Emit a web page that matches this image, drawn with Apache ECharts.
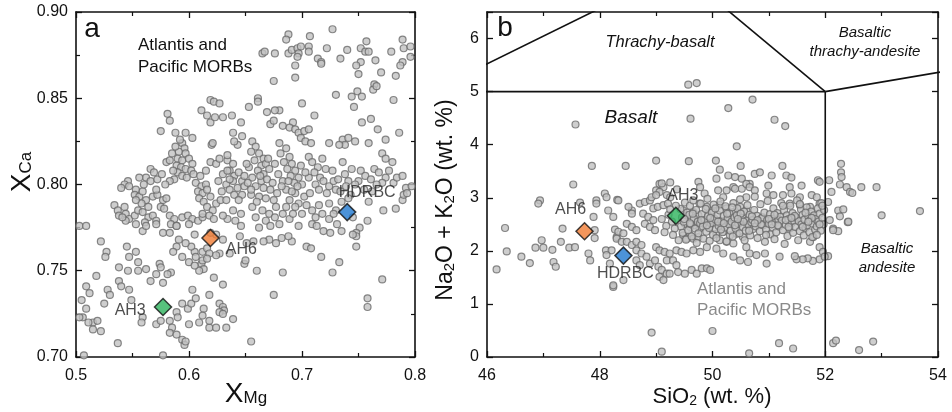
<!DOCTYPE html>
<html>
<head>
<meta charset="utf-8">
<script src="https://cdn.jsdelivr.net/npm/echarts@6/dist/echarts.min.js"></script>
<style>
html,body{margin:0;padding:0;background:#fff;}
#chart{width:952px;height:412px;}
</style>
</head>
<body>
<div id="chart"></div>
<script>
// ---------------- DATA ----------------
// Panel a: Atlantis and Pacific MORBs, [XMg, XCa]
const morbA = [
[0.727,0.890],[0.688,0.887],[0.686,0.884],[0.707,0.886],[0.665,0.876],[0.667,0.877],[0.676,0.876],[0.688,0.876],[0.691,0.878],[0.696,0.879],[0.699,0.880],[0.697,0.876],[0.696,0.874],[0.706,0.880],[0.706,0.877],[0.722,0.879],[0.714,0.873],[0.717,0.871],[0.717,0.870],[0.694,0.869],[0.694,0.862],[0.675,0.860],[0.734,0.873],[0.740,0.878],[0.752,0.879],[0.756,0.877],[0.759,0.877],[0.757,0.883],[0.752,0.871],[0.748,0.869],[0.750,0.864],[0.765,0.872],[0.770,0.865],[0.779,0.877],[0.789,0.884],[0.790,0.879],[0.796,0.880],[0.789,0.871],[0.787,0.869],[0.796,0.874],[0.783,0.863],[0.764,0.858],[0.763,0.855],[0.766,0.857],[0.749,0.854],[0.753,0.851],[0.744,0.851],[0.746,0.845],[0.730,0.852],[0.781,0.849],[0.661,0.850],[0.661,0.848],[0.653,0.845],[0.700,0.847],[0.680,0.843],[0.676,0.843],[0.669,0.842],
[0.619,0.849],[0.622,0.848],[0.627,0.847],
[0.611,0.843],[0.616,0.840],[0.619,0.836],[0.623,0.839],[0.630,0.839],[0.638,0.840],[0.646,0.836],
[0.581,0.841],[0.583,0.837],[0.575,0.831],[0.588,0.830],[0.597,0.830],[0.603,0.827],[0.620,0.823],
[0.594,0.824],[0.596,0.821],[0.591,0.819],[0.597,0.818],[0.590,0.815],[0.594,0.814],[0.600,0.815],[0.603,0.812],[0.589,0.811],[0.593,0.810],[0.597,0.809],[0.602,0.808],[0.590,0.807],[0.594,0.805],[0.587,0.803],[0.583,0.802],[0.580,0.813],[0.583,0.814],
[0.566,0.809],[0.569,0.807],[0.562,0.804],[0.566,0.802],[0.572,0.803],[0.546,0.802],[0.543,0.800],[0.547,0.799],[0.540,0.798],
[0.553,0.797],[0.552,0.794],[0.556,0.793],[0.559,0.796],[0.562,0.791],[0.558,0.789],[0.564,0.787],[0.553,0.791],
[0.568,0.793],[0.572,0.794],[0.577,0.791],[0.580,0.792],[0.575,0.787],[0.578,0.786],
[0.534,0.788],[0.537,0.785],[0.538,0.782],[0.543,0.787],[0.544,0.783],[0.547,0.780],[0.552,0.782],[0.555,0.785],[0.559,0.784],[0.564,0.781],[0.568,0.782],[0.571,0.779],[0.561,0.778],[0.553,0.777],[0.544,0.779],[0.541,0.781],
[0.583,0.782],[0.587,0.780],[0.584,0.777],[0.589,0.776],[0.594,0.781],[0.599,0.782],[0.603,0.780],[0.600,0.777],[0.608,0.779],[0.612,0.781],
[0.606,0.801],[0.611,0.799],[0.615,0.800],[0.608,0.796],[0.612,0.795],[0.616,0.797],[0.619,0.793],[0.609,0.792],[0.613,0.790],[0.616,0.787],[0.621,0.785],[0.612,0.783],[0.618,0.782],[0.622,0.780],[0.624,0.789],[0.628,0.791],
[0.630,0.806],[0.636,0.808],[0.640,0.805],[0.644,0.807],[0.647,0.802],[0.639,0.802],[0.633,0.800],[0.643,0.798],[0.647,0.794],
[0.619,0.813],[0.624,0.812],[0.627,0.815],[0.634,0.814],[0.639,0.812],
[0.621,0.824],[0.634,0.817],[0.643,0.823],[0.639,0.830],[0.640,0.825],[0.647,0.828],
[0.636,0.803],[0.649,0.805],[0.636,0.797],[0.640,0.794],[0.644,0.791],[0.633,0.791],[0.649,0.799],[0.639,0.785],[0.646,0.783],[0.641,0.779],[0.634,0.780],[0.630,0.782],
[0.672,0.835],[0.683,0.834],[0.675,0.837],[0.711,0.840],[0.692,0.836],[0.689,0.833],[0.694,0.832],[0.697,0.830],[0.702,0.831],[0.706,0.832],[0.699,0.827],[0.703,0.825],[0.708,0.824],[0.753,0.836],[0.761,0.838],[0.767,0.832],[0.786,0.830],[0.774,0.826],[0.724,0.824],[0.736,0.826],[0.741,0.827],[0.747,0.825],[0.738,0.823],[0.733,0.823],[0.759,0.824],[0.771,0.818],[0.774,0.815],[0.780,0.813],
[0.656,0.825],[0.659,0.822],[0.655,0.819],[0.662,0.818],[0.666,0.815],[0.658,0.814],[0.664,0.811],[0.668,0.812],[0.653,0.810],[0.661,0.808],[0.666,0.806],[0.671,0.809],[0.656,0.804],[0.664,0.802],[0.669,0.803],[0.674,0.801],[0.659,0.799],[0.666,0.798],[0.672,0.797],[0.678,0.795],[0.655,0.794],[0.662,0.793],[0.668,0.792],[0.675,0.791],
[0.680,0.824],[0.686,0.821],[0.681,0.818],[0.689,0.816],[0.684,0.813],[0.691,0.812],[0.687,0.809],[0.694,0.808],[0.690,0.805],[0.697,0.804],[0.683,0.802],[0.693,0.801],[0.700,0.800],[0.686,0.797],[0.694,0.795],[0.702,0.793],[0.689,0.791],[0.697,0.789],
[0.706,0.816],[0.709,0.813],[0.714,0.810],[0.711,0.807],[0.716,0.804],[0.721,0.809],[0.719,0.802],[0.724,0.799],[0.728,0.802],[0.730,0.797],[0.712,0.800],[0.706,0.804],
[0.736,0.813],[0.738,0.806],[0.741,0.802],[0.744,0.809],[0.752,0.808],[0.756,0.805],[0.750,0.802],[0.761,0.803],[0.764,0.809],[0.768,0.807],[0.774,0.804],[0.771,0.801],[0.777,0.808],[0.781,0.801],[0.784,0.804],[0.789,0.805],[0.792,0.798],[0.797,0.799],
[0.656,0.787],[0.665,0.785],[0.671,0.783],[0.659,0.781],[0.668,0.779],[0.677,0.787],[0.683,0.783],[0.689,0.780],[0.680,0.777],[0.672,0.776],[0.662,0.775],[0.694,0.787],[0.700,0.783],[0.709,0.785],[0.712,0.781],[0.718,0.783],[0.724,0.789],[0.724,0.780],[0.730,0.785],[0.709,0.777],[0.697,0.776],
[0.759,0.790],[0.772,0.785],[0.783,0.786],[0.789,0.791],[0.790,0.794],[0.758,0.779],[0.793,0.795],
[0.745,0.781],[0.751,0.775],[0.748,0.772],[0.731,0.777],[0.719,0.773],[0.725,0.772],[0.713,0.776],[0.728,0.783],
[0.503,0.776],[0.509,0.776],[0.522,0.767],[0.527,0.761],[0.526,0.758],[0.545,0.764],[0.547,0.758],[0.553,0.761],[0.555,0.755],[0.538,0.752],[0.546,0.750],[0.562,0.751],[0.555,0.750],
[0.566,0.744],[0.574,0.754],[0.575,0.752],[0.571,0.748],[0.577,0.743],[0.584,0.749],[0.581,0.748],[0.518,0.747],
[0.538,0.744],[0.540,0.741],[0.547,0.739],[0.549,0.733],[0.528,0.739],[0.530,0.736],[0.525,0.731],[0.509,0.741],[0.512,0.737],[0.505,0.733],[0.509,0.728],[0.506,0.723],[0.515,0.720],[0.519,0.721],[0.522,0.715],[0.515,0.716],[0.511,0.720],[0.503,0.723],
[0.537,0.708],[0.559,0.723],[0.558,0.720],[0.571,0.719],[0.575,0.721],[0.583,0.721],[0.589,0.726],[0.590,0.723],[0.585,0.717],[0.583,0.714],[0.589,0.713],[0.594,0.710],[0.596,0.707],[0.597,0.709],[0.577,0.701],[0.507,0.701],
[0.594,0.731],[0.599,0.728],[0.602,0.731],[0.606,0.734],[0.600,0.719],[0.609,0.720],[0.613,0.728],[0.612,0.724],[0.618,0.717],[0.624,0.717],[0.633,0.717],[0.618,0.721],
[0.627,0.731],[0.630,0.729],[0.631,0.727],[0.627,0.726],[0.639,0.722],[0.630,0.725],
[0.603,0.739],[0.618,0.736],[0.622,0.746],[0.630,0.742],
[0.611,0.754],[0.613,0.751],[0.609,0.750],[0.612,0.761],[0.616,0.763],[0.618,0.760],[0.605,0.761],[0.606,0.758],[0.602,0.764],[0.597,0.766],[0.591,0.768],[0.589,0.764],[0.586,0.761],[0.594,0.758],[0.600,0.755],[0.605,0.753],[0.612,0.756],[0.616,0.757],
[0.627,0.760],[0.624,0.759],[0.636,0.760],[0.630,0.768],[0.624,0.771],[0.619,0.772],[0.605,0.771],
[0.646,0.776],[0.649,0.754],
[0.559,0.773],[0.562,0.776],[0.571,0.777],[0.577,0.772],[0.583,0.772],[0.589,0.776],
[0.748,0.764],[0.733,0.755],[0.727,0.749],[0.717,0.758],[0.683,0.749],[0.675,0.736],[0.771,0.745],[0.758,0.734],[0.758,0.729],[0.704,0.764],[0.708,0.763],[0.691,0.767],[0.682,0.769],[0.688,0.770],[0.671,0.768],[0.677,0.766],[0.748,0.770],[0.745,0.771],[0.735,0.773],[0.655,0.709],[0.657,0.767],[0.660,0.750],[0.650,0.756],[0.645,0.770],[0.651,0.766],[0.666,0.767],
[0.585,0.818],[0.588,0.822],[0.592,0.826],[0.586,0.808],[0.598,0.804],[0.604,0.806],[0.610,0.805],[0.615,0.808],[0.576,0.806],[0.579,0.800],[0.571,0.797],[0.560,0.800],[0.556,0.804],
[0.626,0.802],[0.629,0.796],[0.634,0.808],[0.651,0.812],[0.652,0.801],[0.655,0.797],[0.660,0.790],[0.663,0.805],[0.670,0.815],[0.676,0.812],[0.679,0.806],[0.682,0.799],[0.688,0.802],[0.691,0.796],[0.696,0.799],[0.699,0.811],[0.703,0.807],[0.707,0.795],[0.715,0.797],[0.718,0.815],[0.722,0.795],[0.727,0.808],[0.732,0.803],[0.734,0.796],[0.739,0.799],[0.743,0.794],[0.747,0.800],[0.755,0.797],[0.762,0.796],[0.766,0.800],[0.676,0.781],[0.686,0.787],[0.692,0.783],[0.704,0.788],[0.715,0.788],[0.735,0.790],[0.741,0.792]
];

// Panel b: Atlantis and Pacific MORBs, [SiO2, Na2O+K2O]
const morbB = [
[49.57,5.13],[49.72,5.16],[50.71,4.85],[50.28,4.69],[47.57,4.38],[49.61,4.49],[51.10,4.47],[51.29,4.35],[50.43,3.97],[47.86,3.60],[48.46,3.60],[49.00,3.70],[49.58,3.69],[50.06,3.70],[50.50,3.60],[51.24,3.60],[52.28,3.64],[52.28,3.48],[50.13,3.53],
[46.94,2.95],[46.91,2.89],[46.32,2.43],[46.97,2.20],[46.86,2.06],[47.00,2.06],[47.16,2.02],[46.35,1.99],[46.61,1.89],[46.76,1.77],[47.18,1.79],[47.22,1.70],[46.17,1.65],
[47.53,3.25],[47.34,2.42],[47.31,2.17],[47.46,2.06],[47.56,2.07],[47.65,2.91],
[47.94,2.95],[47.94,2.89],[48.09,3.08],[48.12,3.01],[48.31,2.96],[48.57,2.76],[47.89,2.64],[47.80,1.95],[47.83,1.82],[47.91,2.24],[47.91,2.39],[48.27,2.40],[48.30,2.26],[48.11,2.01],[48.24,1.32],[48.42,1.45],
[48.92,0.46],[50.00,0.49],[49.10,0.10],[50.65,0.07],[51.18,0.26],[51.43,0.16],[52.14,0.26],[52.19,0.31],[52.60,0.13],[52.85,0.29],
[48.33,2.95],[48.15,2.76],[48.24,2.64],[48.51,2.83],[48.57,2.70],[48.71,2.89],[48.80,2.92],[48.89,2.95],[49.06,3.26],[49.13,3.20],[49.00,3.14],[49.06,3.11],[49.19,3.05],[49.25,3.01],
[48.95,2.80],[49.03,2.83],[49.13,2.86],[49.21,2.89],[48.77,2.70],[48.86,2.64],[48.95,2.58],[48.80,2.51],[48.89,2.45],[48.98,2.39],[48.48,2.51],[48.57,2.45],[48.65,2.39],[48.33,2.36],[48.42,2.33],
[48.30,2.23],[48.39,2.17],[48.48,2.17],[48.57,2.11],[48.65,2.17],[48.74,2.11],[48.65,2.01],[48.74,1.95],[48.83,1.89],[48.21,2.01],[48.12,1.92],[48.65,1.82],[48.71,1.73],[48.18,1.76],[48.24,1.35],
[48.89,1.76],[48.98,1.82],[49.04,1.70],[49.10,1.64],[49.19,1.57],[49.00,2.07],[49.06,2.01],[49.15,1.98],[49.24,1.95],[49.36,2.01],[49.45,1.98],[49.54,1.95],[49.66,2.01],[49.78,1.98],
[49.19,1.82],[49.30,1.82],[49.36,1.73],[49.24,1.57],[49.39,1.60],[49.51,1.57],[49.63,1.64],[49.72,1.57],[49.81,1.67],[49.90,1.67],[49.96,1.64],[49.06,1.51],[49.13,1.45],
[49.60,2.29],[49.66,2.23],[49.75,2.26],[49.90,2.07],[50.07,2.04],[50.13,2.20],[50.25,2.17],[50.37,2.14],[50.37,1.89],[50.49,1.82],[50.19,1.95],[50.60,2.07],[50.66,1.95],
[49.48,2.76],[49.54,2.67],[49.63,2.61],[49.66,2.73],[49.75,2.67],[49.51,2.51],[49.60,2.45],[49.68,2.48],[49.77,2.42],[49.86,2.51],[49.95,2.45],[49.48,2.29],[49.54,2.23],
[49.77,2.89],[49.90,2.83],[50.01,2.76],[50.13,2.86],[50.25,2.80],[50.37,2.73],[50.49,2.83],[50.60,2.76],[50.01,2.58],[50.13,2.51],[50.25,2.58],[50.37,2.48],[50.49,2.58],[50.60,2.51],
[50.07,2.32],[50.19,2.36],[50.31,2.29],[50.43,2.32],[50.54,2.26],[50.25,3.14],[50.37,3.20],[50.52,3.17],[50.19,3.01],[50.60,3.01],[50.28,3.42],[50.40,3.39],[50.52,3.36],[49.86,3.08],[50.07,3.36],
[48.92,3.01],[49.00,3.05],[49.10,3.27],[49.25,3.29],[49.37,3.16],[49.75,3.30],[49.78,3.20],[50.10,3.14],[50.40,3.17],[50.66,3.26],
[52.29,3.39],[52.26,3.25],[52.38,3.20],[52.44,3.11],[52.48,3.09],[52.64,3.20],[52.91,3.20],[52.11,3.11],[52.07,3.33],[52.05,2.92],[52.23,2.76],[52.32,2.78],[52.26,2.65],[52.40,2.54],[53.00,2.67],[53.68,2.75],[52.08,2.58],[52.14,2.42],[52.23,2.37],[52.05,1.90],[52.41,2.55],[52.14,2.39],
[50.75,3.45],[50.84,3.48],[51.05,3.42],[51.31,3.42],[51.40,3.38],[51.58,3.23],[51.87,3.33],[51.90,3.30],[50.60,3.26],[50.66,3.20],[50.75,3.14],[50.99,3.23],[51.37,3.20],[51.40,3.08],[51.25,3.05],[51.55,3.01],[50.96,3.08],[51.08,3.05],[51.76,3.05],[51.85,3.01],[51.90,2.89],[51.55,2.86],[51.37,2.89],[51.73,2.83],
[51.90,1.84],[51.78,1.81],[51.69,1.86],[51.60,1.84],[51.49,1.84],[51.46,1.90],[50.78,1.92],[50.93,1.95],[50.63,1.79],[51.73,2.17],[51.79,2.26],[51.90,2.07],[51.96,1.98],[50.96,1.76],[51.19,1.89],[51.99,1.89],
[49.44,2.46],[49.46,2.63],[49.43,2.79],[49.47,2.34],[49.49,2.55],[49.51,2.91],[49.53,2.21],[49.55,2.72],[49.57,2.39],[49.59,2.68],[49.60,2.85],[49.62,2.50],[49.63,2.27],[49.66,2.95],[49.67,2.61],[49.69,2.42],[49.71,2.77],[49.72,2.15],[49.74,2.55],[49.75,2.33],[49.78,2.52],[49.79,2.89],[49.81,2.69],[49.83,2.46],[49.84,2.23],[49.86,2.58],[49.88,2.79],[49.89,2.36],[49.91,2.98],[49.92,2.65],[49.94,2.43],[49.95,2.19],[49.97,2.52],[49.99,2.72],[50.01,2.30],[50.02,2.87],[50.04,2.60],[50.06,2.41],[50.07,2.24],[50.09,2.68],[50.11,2.47],[50.13,2.76],[50.14,2.93],[50.16,2.56],[50.18,2.35],[50.20,2.66],[50.22,2.44],[50.23,2.84],[50.25,2.18],[50.27,2.61],[50.29,2.50],[50.30,2.71],[50.32,2.38],[50.34,2.55],[50.36,2.27],[50.37,2.90],[50.39,2.63],[50.41,2.42],[50.43,2.67],[50.44,2.80],[50.46,2.51],[50.48,2.33],[50.49,2.97],[50.51,2.59],[50.53,2.62],[50.54,2.45],[50.56,2.74],[50.57,2.20],[50.59,2.38],[50.61,2.57],[50.62,2.86],[50.64,2.49],[50.66,2.68],[50.67,2.29],[50.69,2.54],[50.71,2.58],[50.72,2.41],[50.74,2.77],[50.75,3.02],[50.77,2.46],[50.79,2.66],[50.80,2.24],[50.82,2.55],[50.84,2.37],[50.85,2.88],[50.87,2.61],[50.89,2.63],[50.90,2.48],[50.92,2.72],[50.93,2.17],[50.95,2.40],[50.97,2.58],[50.98,2.94],[51.00,2.51],[51.02,2.69],[51.03,2.31],[51.05,2.60],[51.07,2.44],[51.08,2.80],[51.10,2.22],[51.12,2.53],[51.13,2.35],[51.15,2.71],[51.17,2.59],[51.18,2.46],[51.20,2.64],[51.22,2.90],[51.23,2.57],[51.25,2.39],[51.27,2.76],[51.28,2.13],[51.30,2.49],[51.32,2.67],[51.33,2.28],[51.35,2.60],[51.37,2.42],[51.38,2.85],[51.40,2.52],[51.42,2.71],[51.43,2.34],[51.45,2.56],[51.47,2.45],[51.48,2.63],[51.50,2.95],[51.52,2.20],[51.53,2.56],[51.55,2.37],[51.57,2.78],[51.58,2.50],[51.60,2.68],[51.62,2.29],[51.63,2.59],[51.65,2.43],[51.67,2.82],[51.68,2.48],[51.70,2.65],[51.72,2.35],[51.73,2.57],[51.75,2.74],[51.77,2.26],[51.78,2.51],[51.80,2.67],[51.82,2.40],[51.83,2.60],[51.85,2.46],[51.87,2.80],[51.88,2.55],[51.90,2.70],[51.92,2.38],[51.93,2.90],[51.95,2.62],[51.97,2.50],[51.98,2.77],
[49.50,2.60],[49.65,2.70],[49.80,2.58],[49.96,2.62],[50.10,2.55],[50.26,2.70],[50.40,2.48],[50.55,2.55],[50.70,2.65],[50.86,2.50],[51.00,2.60],[51.16,2.48],[51.30,2.58],[51.46,2.66],[51.60,2.45],[51.76,2.62],[51.90,2.50],[50.20,2.52],[50.50,2.70],[50.80,2.58],[51.10,2.68],[51.40,2.62],[51.70,2.55],[50.05,2.80],[50.35,2.82],[50.65,2.38],[50.95,2.30],[51.25,2.85],[51.55,2.88],[51.85,2.30],[49.60,2.52],[49.90,2.48],[50.15,2.40],[50.45,2.60],[50.75,2.52],[51.05,2.50],[51.35,2.45],[51.65,2.72],[51.95,2.85],
[49.28,2.55],[49.33,2.42],[49.22,2.68],[49.18,2.47],[49.10,2.60],[49.30,2.30],[49.40,2.20],[49.35,2.85],[49.25,2.78],[49.15,2.35]
];

// Samples
const sampleNames = ['AH3', 'AH6', 'HDRBC'];
const sampleColors = ['#2db35d', '#f07c33', '#1f78cf'];
const sampleXMg = [0.577, 0.619, 0.740];
const sampleXCa = [0.729, 0.769, 0.784];
const sampleSiO2 = [49.35, 47.73, 48.42];
const sampleAlk = [2.66, 2.37, 1.91];

// TAS field boundaries (SiO2, Na2O+K2O)
const tasBoundaries = [
  [[45, 5], [49.4, 7.3]],
  [[45, 5], [52, 5]],
  [[52, 0], [52, 5]],
  [[52, 5], [49.4, 7.3]],
  [[52, 5], [57, 5.9]]
];

// Tick labels
const xMgTicks = ['0.5', '0.6', '0.7', '0.8'];
const xCaTicks = ['0.70', '0.75', '0.80', '0.85', '0.90'];
const sio2Ticks = ['46', '48', '50', '52', '54'];
const alkTicks = ['0', '1', '2', '3', '4', '5', '6'];

// ---------------- CHART ----------------
const FONT = '"Liberation Sans", Arial, Helvetica, sans-serif';
const chart = echarts.init(document.getElementById('chart'), null, {renderer: 'canvas'});

function frameAxis(gridIndex, pos, min, max, interval, minorSplit, labelFn, isX) {
  return {
    gridIndex: gridIndex, type: 'value', position: pos, min: min, max: max, interval: interval,
    axisLine: {show: true, onZero: false, lineStyle: {color: '#111', width: 1.6}},
    axisTick: {show: true, inside: true, length: 6, lineStyle: {color: '#111', width: 1.3}},
    minorTick: {show: minorSplit > 0, splitNumber: minorSplit || 2, length: 4, lineStyle: {color: '#111', width: 1.2}},
    splitLine: {show: false},
    minorSplitLine: {show: false},
    axisLabel: labelFn ? {
      show: true, formatter: labelFn, fontSize: 16, color: '#111', fontFamily: FONT,
      margin: isX ? 11 : 8, showMinLabel: true, showMaxLabel: true
    } : {show: false}
  };
}

const fmtXMg = v => xMgTicks[Math.round((v - 0.5) / 0.1)] ?? '';
const fmtXCa = v => { const i = (v - 0.70) / 0.05; return Math.abs(i - Math.round(i)) < 1e-6 ? (xCaTicks[Math.round(i)] ?? '') : ''; };
const fmtSiO2 = v => sio2Ticks[Math.round((v - 46) / 2)] ?? '';
const fmtAlk = v => Number.isInteger(Math.round(v * 1000) / 1000) ? (alkTicks[Math.round(v)] ?? '') : '';

const grids = [
  {left: 76, top: 12, width: 339, height: 345},
  {left: 487, top: 12, width: 451, height: 345}
];

const xAxes = [
  frameAxis(0, 'bottom', 0.5, 0.8, 0.1, 2, fmtXMg, true),
  frameAxis(0, 'top', 0.5, 0.8, 0.1, 2, null, true),
  frameAxis(1, 'bottom', 46, 54, 2, 2, fmtSiO2, true),
  frameAxis(1, 'top', 46, 54, 2, 2, null, true)
];
const yAxes = [
  frameAxis(0, 'left', 0.70, 0.90, 0.05, 2, fmtXCa, false),
  frameAxis(0, 'right', 0.70, 0.90, 0.05, 2, null, false),
  frameAxis(1, 'left', 0, 6.5, 1, 0, fmtAlk, false),
  frameAxis(1, 'right', 0, 6.5, 1, 0, null, false)
];

const greyStyle = {color: '#c2c2c2', borderColor: '#6a6a6a', borderWidth: 1.2};

const series = [];
series.push({
  type: 'scatter', xAxisIndex: 0, yAxisIndex: 0, data: morbA,
  symbol: 'circle', symbolSize: 7, itemStyle: greyStyle, z: 2, silent: true
});
series.push({
  type: 'scatter', xAxisIndex: 2, yAxisIndex: 2, data: morbB,
  symbol: 'circle', symbolSize: 7, itemStyle: greyStyle, z: 2, silent: true
});
tasBoundaries.forEach(seg => {
  series.push({
    type: 'line', xAxisIndex: 2, yAxisIndex: 2, data: seg, symbol: 'none', clip: true,
    lineStyle: {color: '#111', width: 1.6}, z: 3, silent: true
  });
});

const labelBase = {show: true, fontSize: 16, color: '#222', fontFamily: FONT};
const labA = [
  {position: 'left', distance: 8, offset: [0, 4]},
  {position: 'right', distance: 6, offset: [0, 12]},
  {position: 'top', distance: 2, offset: [20, 0]}
];
const labB = [
  {position: 'top', distance: 3, offset: [7, 0]},
  {position: 'top', distance: 4, offset: [-14, 0]},
  {position: 'bottom', distance: 1, offset: [2, 0]}
];
series.push({
  type: 'scatter', xAxisIndex: 0, yAxisIndex: 0, z: 5, symbol: 'diamond', symbolSize: 17,
  data: sampleNames.map((n, i) => ({
    name: n, value: [sampleXMg[i], sampleXCa[i]],
    itemStyle: {color: sampleColors[i], borderColor: '#111', borderWidth: 1.5},
    label: Object.assign({}, labelBase, labA[i], {formatter: n})
  }))
});
series.push({
  type: 'scatter', xAxisIndex: 2, yAxisIndex: 2, z: 5, symbol: 'diamond', symbolSize: 17,
  data: sampleNames.map((n, i) => ({
    name: n, value: [sampleSiO2[i], sampleAlk[i]],
    itemStyle: {color: sampleColors[i], borderColor: '#111', borderWidth: 1.5},
    label: Object.assign({}, labelBase, labB[i], {formatter: n})
  }))
});

function txt(x, y, text, opts) {
  return {
    type: 'text', x: x, y: y, z: 10, silent: true,
    rotation: (opts && opts.rotation) || 0,
    style: Object.assign({
      text: text, fontFamily: FONT, fontSize: 16, fill: '#111',
      align: 'center', verticalAlign: 'middle'
    }, opts && opts.style)
  };
}

const graphics = [
  txt(92, 29, 'a', {style: {fontSize: 28}}),
  txt(505, 28, 'b', {style: {fontSize: 28}}),
  txt(138, 56, 'Atlantis and\nPacific MORBs', {style: {align: 'left', fontSize: 17, lineHeight: 22, fill: '#111'}}),
  txt(697, 300, 'Atlantis and\nPacific MORBs', {style: {align: 'left', fontSize: 17, lineHeight: 21, fill: '#8a8a8a'}}),
  txt(660, 42, 'Thrachy-basalt', {style: {fontStyle: 'italic', fontSize: 16.5}}),
  txt(865, 42, 'Basaltic\nthrachy-andesite', {style: {fontStyle: 'italic', fontSize: 15, lineHeight: 19}}),
  txt(631, 118, 'Basalt', {style: {fontStyle: 'italic', fontSize: 19}}),
  txt(887, 258, 'Basaltic\nandesite', {style: {fontStyle: 'italic', fontSize: 15, lineHeight: 19}}),
  txt(246, 394, '{a|X}{b|Mg}', {style: {rich: {a: {fontSize: 28, fontFamily: FONT, fill: '#111'}, b: {fontSize: 17, fontFamily: FONT, fill: '#111', verticalAlign: 'bottom', padding: [0, 0, 1, 0]}}}}),
  txt(22, 172, '{a|X}{b|Ca}', {rotation: Math.PI / 2, style: {rich: {a: {fontSize: 28, fontFamily: FONT, fill: '#111'}, b: {fontSize: 17, fontFamily: FONT, fill: '#111', verticalAlign: 'bottom', padding: [0, 0, 1, 0]}}}}),
  txt(712, 397, '{a|SiO}{b|2}{a| (wt. %)}', {style: {rich: {a: {fontSize: 22, fontFamily: FONT, fill: '#111'}, b: {fontSize: 14, fontFamily: FONT, fill: '#111', verticalAlign: 'bottom'}}}}),
  txt(446, 200, '{a|Na}{b|2}{a|O + K}{b|2}{a|O (wt. %)}', {rotation: Math.PI / 2, style: {rich: {a: {fontSize: 23, fontFamily: FONT, fill: '#111'}, b: {fontSize: 15, fontFamily: FONT, fill: '#111', verticalAlign: 'bottom'}}}})
];

chart.setOption({
  animation: false,
  backgroundColor: '#ffffff',
  grid: grids,
  xAxis: xAxes,
  yAxis: yAxes,
  series: series,
  graphic: graphics
});
</script>
</body>
</html>
